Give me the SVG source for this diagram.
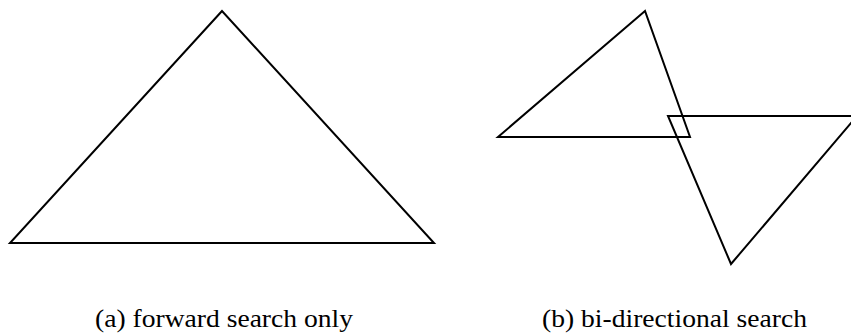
<svg xmlns="http://www.w3.org/2000/svg" width="851" height="333" viewBox="0 0 851 333">
<style>
.tri{fill:none;stroke:#000;stroke-width:2;stroke-linejoin:miter}
.lbl{font-family:"Liberation Serif","Times New Roman",Times,serif;font-size:26px;fill:#000}
</style>
<rect width="851" height="333" fill="#fff"/>
<g id="forward">
<polygon class="tri" points="222,11 10,243 434,243"/>
</g>
<g id="bidirectional">
<polygon class="tri" points="645,11 498,137 690,137"/>
<polygon class="tri" points="668,116 857,116 731,264"/>
</g>
<g id="connectors"></g>
<g id="labels">
<text class="lbl" x="95" y="327" textLength="258" lengthAdjust="spacingAndGlyphs">(a) forward search only</text>
<text class="lbl" x="542" y="327" textLength="265" lengthAdjust="spacingAndGlyphs">(b) bi-directional search</text>
</g>
</svg>
